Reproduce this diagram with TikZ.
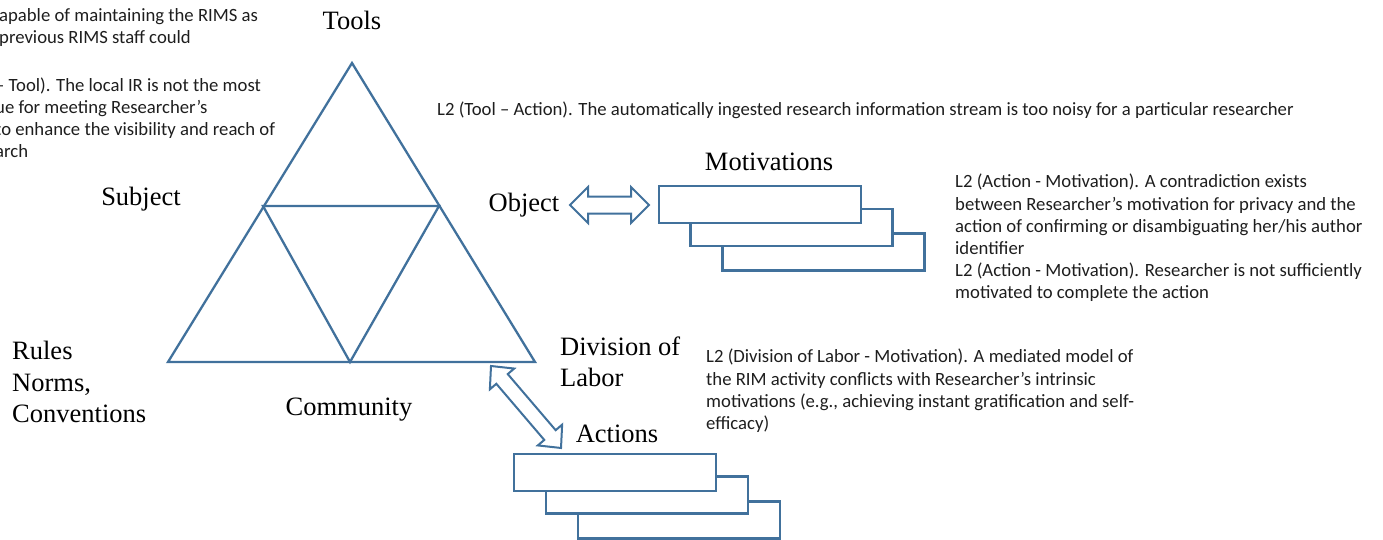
\documentclass[tikz,border=0pt]{standalone}
\usepackage{fontspec}
\setmainfont{Liberation Serif}
\newfontfamily\calfont{Carlito}
\definecolor{lineblue}{RGB}{65,113,156}
\definecolor{txtgray}{RGB}{30,30,30}
\begin{document}
\begin{tikzpicture}[x=1pt,y=-1pt,
  tri/.style={draw=lineblue, line width=2.3pt, line join=miter},
  rectbox/.style={draw=lineblue, line width=2.5pt, fill=white, minimum width=202pt, minimum height=37pt, inner sep=0pt},
  barrow/.style={draw=lineblue, line width=2pt, fill=white, line join=miter},
  big/.style={font=\fontsize{26.5}{31.5}\selectfont, inner sep=0pt, text=black},
  note/.style={font=\calfont\fontsize{18.7}{22.2}\selectfont, inner sep=0pt, align=left, text=txtgray, anchor=north west}
]
\useasboundingbox (0,0) rectangle (1383,539);

% triangle
\coordinate (T) at (352,63);
\coordinate (L) at (168,362);
\coordinate (R) at (535,362);
\coordinate (ML) at (263,206);
\coordinate (MR) at (439,206);
\coordinate (MB) at (350,362);
\draw[tri] (T) -- (R) -- (L) -- cycle;
\draw[tri] (ML) -- (MR) -- (MB) -- cycle;

% labels
\node[big] (tools) at (352,20.5) {Tools};
\node[big] (subject) at (141,199.5) {Subject};
\node[big] (object) at (524,205) {Object};
\node[big] (motiv) at (769,161.5) {Motivations};
\node[big, anchor=north west, align=left] (rules) at (12,341) {Rules\\Norms,\\Conventions};
\node[big, anchor=north west, align=left] (dol) at (560,336.5) {Division of\\Labor};
\node[big] (community) at (349,409.5) {Community};
\node[big] (actions) at (617,433.5) {Actions};

% motivation boxes
\node[rectbox] (m3) at (823.5,252) {};
\node[rectbox] (m2) at (791.5,227.5) {};
\node[rectbox] (m1) at (760,204.5) {};

% action boxes
\node[rectbox] (a3) at (679,520) {};
\node[rectbox] (a2) at (647,495) {};
\node[rectbox] (a1) at (615,472.5) {};

% block arrows
\coordinate (oA) at (570,205);
\draw[barrow, shift={(oA)}] (0,0) -- (18,-18) -- (18,-8.5) -- (61,-8.5) -- (61,-18) -- (79,0)
  -- (61,18) -- (61,8.5) -- (18,8.5) -- (18,18) -- cycle;
\coordinate (dA) at (491,366);
\draw[barrow, shift={(dA)}, rotate=-49.5] (0,0) -- (17,-16) -- (17,-7.5) -- (90.8,-7.5) -- (90.8,-16) -- (107.8,0)
  -- (90.8,16) -- (90.8,7.5) -- (17,7.5) -- (17,16) -- cycle;

% notes
\node[note] (n1) at (437,102) {L2 (Tool – Action). The automatically ingested research information stream is too noisy for a particular researcher};
\node[note] (n2) at (955,174) {L2 (Action - Motivation). A contradiction exists\\between Researcher’s motivation for privacy and the\\action of confirming or disambiguating her/his author\\identifier\\L2 (Action - Motivation). Researcher is not sufficiently\\motivated to complete the action};
\node[note] (n3) at (706,349) {L2 (Division of Labor - Motivation). A mediated model of\\the RIM activity conflicts with Researcher’s intrinsic\\motivations (e.g., achieving instant gratification and self-\\efficacy)};
\node[note] (n4) at (-1,8.5) {apable of maintaining the RIMS as\\previous RIMS staff could};
\node[note] (n5) at (-5,77.5) {– Tool). The local IR is not the most\\ue for meeting Researcher’s\\to enhance the visibility and reach of\\arch};
\end{tikzpicture}
\end{document}
